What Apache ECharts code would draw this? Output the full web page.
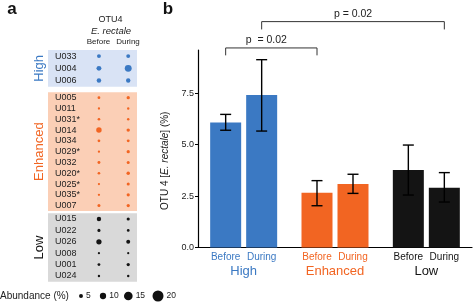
<!DOCTYPE html>
<html>
<head>
<meta charset="utf-8">
<script src="https://cdn.jsdelivr.net/npm/echarts@6/dist/echarts.min.js"></script>
<style>
html,body{margin:0;padding:0;background:#fff;}
#c{width:473px;height:305px;}
</style>
</head>
<body>
<div id="c"></div>
<script>
// ---------- Data: panel a (dot plot, abundance %) ----------
var periods = ['Before', 'During'];
var highRows = ['U033', 'U004', 'U006'];
var highBefore = [5.0, 7.0, 6.2];
var highDuring = [4.9, 11.3, 6.0];
var enhRows = ['U005', 'U011', 'U031*', 'U014', 'U034', 'U029*', 'U032', 'U020*', 'U025*', 'U035*', 'U007'];
var enhBefore = [2.5, 1.5, 2.2, 8.2, 2.4, 1.5, 2.8, 2.3, 1.4, 1.5, 3.0];
var enhDuring = [3.6, 1.6, 1.8, 3.8, 2.8, 3.5, 3.0, 4.0, 3.2, 3.4, 3.5];
var lowRows = ['U015', 'U022', 'U026', 'U008', 'U001', 'U024'];
var lowBefore = [6.0, 3.2, 7.8, 1.3, 2.6, 1.7];
var lowDuring = [3.3, 2.4, 5.0, 1.3, 3.6, 1.8];
var legendValues = [5, 10, 15, 20];

// ---------- Data: panel b (bar chart) ----------
var groups = ['High', 'Enhanced', 'Low'];
var barBefore = [6.08, 2.66, 3.77];
var barDuring = [7.41, 3.09, 2.91];
var errBeforeLow = [5.70, 2.03, 2.55];
var errBeforeHigh = [6.47, 3.25, 4.98];
var errDuringLow = [5.66, 2.63, 2.21];
var errDuringHigh = [9.13, 3.56, 3.64];
var yTicks = [0, 2.5, 5, 7.5];
var pLabels = ['p  = 0.02', 'p = 0.02'];

// ---------- Styles ----------
var FONT = 'Liberation Sans, Arial, Helvetica, sans-serif';
var colors = ['#3b79c3', '#f26522', '#141414'];
var boxColors = ['#d9e3f5', '#fbcfb6', '#d9d9d9'];
var BAR_W = 31, BAR_GAP = 5;
var OFF = (BAR_W + BAR_GAP) / 2;
function dotSize(v) { return 1.6 + 0.47 * v; }

var chart = echarts.init(document.getElementById('c'), null, {renderer: 'canvas'});

function dots(before, during) {
  var d = [];
  for (var i = 0; i < before.length; i++) {
    d.push([0, i, before[i]]);
    d.push([1, i, during[i]]);
  }
  return d;
}

var dotGroups = [
  {rows: highRows, before: highBefore, during: highDuring, name: 'High', top: 50, height: 36.7},
  {rows: enhRows, before: enhBefore, during: enhDuring, name: 'Enhanced', top: 92.3, height: 118.7},
  {rows: lowRows, before: lowBefore, during: lowDuring, name: 'Low', top: 213.3, height: 68.4}
];

var grids = [{left: 198, right: 1, top: 50, bottom: 57.5}];
var xAxes = [{
  type: 'category', data: groups, gridIndex: 0,
  axisLine: {lineStyle: {color: '#000', width: 1.2}},
  axisTick: {show: false},
  axisLabel: {
    margin: 3, interval: 0, hideOverlap: false,
    formatter: function (v, i) {
      return '{b' + i + '|Before}{b' + i + '|During}\n{g' + i + '|' + v + '}';
    },
    rich: (function () {
      var r = {};
      for (var i = 0; i < 3; i++) {
        r['b' + i] = {color: colors[i], fontSize: 10, width: 36, align: 'center', lineHeight: 13, fontFamily: FONT};
        r['g' + i] = {color: colors[i], fontSize: 13, lineHeight: 15, fontFamily: FONT};
      }
      return r;
    })()
  }
}];
var yAxes = [{
  type: 'value', gridIndex: 0, min: 0, max: 9.6, interval: 2.5,
  axisLine: {show: true, lineStyle: {color: '#000', width: 1.2}},
  axisTick: {show: true, length: 3, lineStyle: {color: '#000'}},
  splitLine: {show: false},
  axisLabel: {fontSize: 9, color: '#222', fontFamily: FONT, margin: 4, showMaxLabel: false,
    formatter: function (v) { return yTicks.indexOf(v) >= 0 ? v.toFixed(1) : ''; }},
  name: '{n|OTU 4 [}{i|E. rectale}{n|] (%)}',
  nameLocation: 'middle', nameGap: 24,
  nameTextStyle: {padding: [0, 24, 0, 0], rich: {
    n: {fontSize: 10, color: '#222', fontFamily: FONT},
    i: {fontSize: 10, color: '#222', fontStyle: 'italic', fontFamily: FONT}
  }}
}];

var series = [
  {type: 'bar', name: 'Before', xAxisIndex: 0, yAxisIndex: 0, barWidth: BAR_W, barGap: (BAR_GAP / BAR_W * 100) + '%',
    data: barBefore.map(function (v, i) { return {value: v, itemStyle: {color: colors[i]}}; })},
  {type: 'bar', name: 'During', xAxisIndex: 0, yAxisIndex: 0, barWidth: BAR_W,
    data: barDuring.map(function (v, i) { return {value: v, itemStyle: {color: colors[i]}}; })}
];

function errSeries(lo, hi, offset) {
  return {
    type: 'custom', xAxisIndex: 0, yAxisIndex: 0, z: 10,
    data: lo.map(function (v, i) { return [i, v, hi[i]]; }),
    renderItem: function (params, api) {
      var a = api.coord([api.value(0), api.value(1)]);
      var b = api.coord([api.value(0), api.value(2)]);
      var x = a[0] + offset, cw = 5.5;
      var st = {stroke: '#000', lineWidth: 1.4};
      return {type: 'group', children: [
        {type: 'line', shape: {x1: x, y1: a[1], x2: x, y2: b[1]}, style: st},
        {type: 'line', shape: {x1: x - cw, y1: a[1], x2: x + cw, y2: a[1]}, style: st},
        {type: 'line', shape: {x1: x - cw, y1: b[1], x2: x + cw, y2: b[1]}, style: st}
      ]};
    }
  };
}
series.push(errSeries(errBeforeLow, errBeforeHigh, -OFF));
series.push(errSeries(errDuringLow, errDuringHigh, OFF));

dotGroups.forEach(function (g, k) {
  var gi = k + 1;
  grids.push({left: 48, width: 89, top: g.top, height: g.height, show: true,
    backgroundColor: boxColors[k], borderWidth: 0});
  xAxes.push({type: 'value', gridIndex: gi, min: -1.74, max: 1.3, show: false});
  yAxes.push({type: 'category', gridIndex: gi, data: g.rows, inverse: true,
    axisLine: {show: false}, axisTick: {show: false}, splitLine: {show: false},
    axisLabel: {inside: true, interval: 0, hideOverlap: false, margin: 7, fontSize: 9, color: '#222', fontFamily: FONT},
    name: g.name, nameLocation: 'middle', nameRotate: 90, nameGap: 2,
    nameTextStyle: {fontSize: 13, color: colors[k], fontFamily: FONT}});
  series.push({type: 'scatter', xAxisIndex: gi, yAxisIndex: gi,
    data: dots(g.before, g.during),
    symbolSize: function (d) { return dotSize(d[2]); },
    itemStyle: {color: colors[k], opacity: 1}, silent: true});
});

chart.setOption({
  animation: false,
  backgroundColor: '#fff',
  textStyle: {fontFamily: FONT},
  grid: grids, xAxis: xAxes, yAxis: yAxes, series: series
});

// ---------- annotations (headers, legend, brackets) ----------
var g = [];
function txt(t, x, y, opt) {
  opt = opt || {};
  g.push({type: 'text', silent: true, z: 100, style: {
    text: t, x: x, y: y, fill: opt.fill || '#222',
    font: (opt.style || 'normal') + ' ' + (opt.weight || 'normal') + ' ' + (opt.size || 9) + 'px ' + FONT,
    textAlign: opt.align || 'center', textVerticalAlign: 'middle'}});
}
txt('a', 12, 9, {size: 17, weight: 'bold', fill: '#111'});
txt('b', 168, 9, {size: 17, weight: 'bold', fill: '#111'});
txt('OTU4', 110.5, 20, {size: 9});
txt('E. rectale', 111, 31, {size: 9.5, style: 'italic'});
txt(periods[0], 98.5, 42, {size: 8});
txt(periods[1], 128, 42, {size: 8});
txt('Abundance (%)', 0, 296, {size: 10, align: 'left'});
var legX = [81, 103, 128.3, 158];
legendValues.forEach(function (v, i) {
  g.push({type: 'circle', silent: true, shape: {cx: legX[i], cy: 296, r: dotSize(v) / 2}, style: {fill: '#111'}});
  txt(String(v), legX[i] + dotSize(v) / 2 + 3, 296, {size: 8.5, align: 'left'});
});

var brackets = [
  {a: [0, -OFF], b: [1, -OFF], y: 9.7, drop: 0.36, label: pLabels[0], dx: -5},
  {a: [0, OFF], b: [2, OFF], y: 10.98, drop: 0.38, label: pLabels[1], dx: 0}
];
brackets.forEach(function (br) {
  var p1 = chart.convertToPixel({gridIndex: 0}, [br.a[0], br.y]);
  var p2 = chart.convertToPixel({gridIndex: 0}, [br.b[0], br.y]);
  var p3 = chart.convertToPixel({gridIndex: 0}, [br.a[0], br.y - br.drop]);
  var x1 = p1[0] + br.a[1], x2 = p2[0] + br.b[1], yt = p1[1], yb = p3[1];
  g.push({type: 'polyline', silent: true, shape: {points: [[x1, yb], [x1, yt], [x2, yt], [x2, yb]]},
    style: {stroke: '#333', lineWidth: 1, fill: null}});
  txt(br.label, (x1 + x2) / 2 + br.dx, yt - 8, {size: 10.5});
});
chart.setOption({graphic: g});
</script>
</body>
</html>
